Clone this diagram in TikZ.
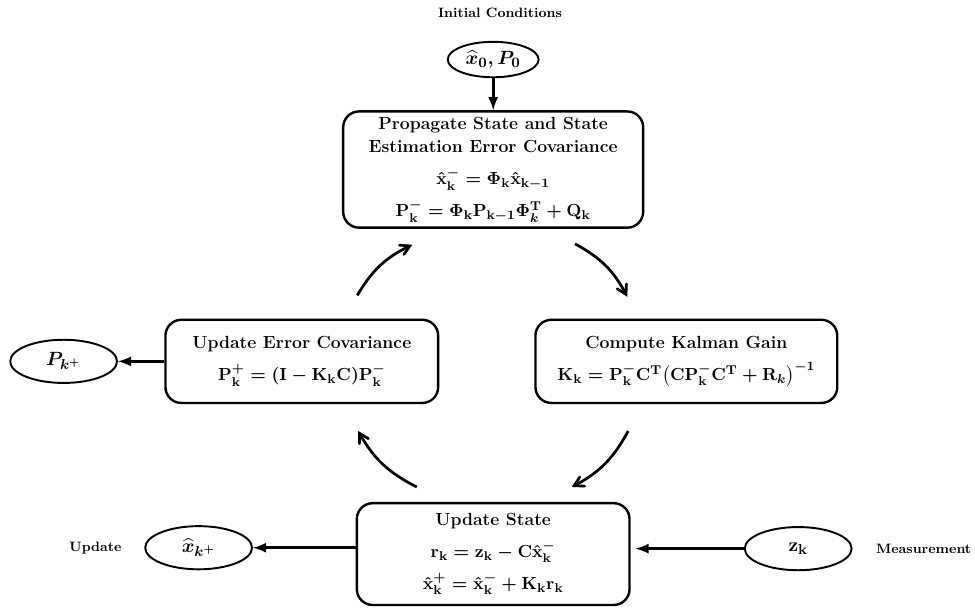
\documentclass[tikz,border=0pt]{standalone}
\usepackage{amsmath}
\usepackage{tikz}
\usetikzlibrary{shapes.geometric, arrows}
\newcommand{\boxfont}{\bfseries\boldmath\fontsize{11}{15}\selectfont}
\newcommand{\ovalfont}{\bfseries\boldmath\fontsize{12.5}{15}\selectfont}
\tikzstyle{process} = [rectangle, rounded corners=0.35cm, minimum
height=1.83cm, align=center, draw=black, line width=1.5pt, font=\boxfont]
\tikzstyle{estimate} = [ellipse, minimum width=2.35cm, minimum
height=0.95cm, inner sep=0pt, draw=black, line width=1.2pt, font=\ovalfont]
\tikzstyle{note} = [font=\bfseries\fontsize{8.5}{10}\selectfont]
\tikzstyle{arrow} =
[line width=1.8pt,->,>=latex]
\tikzstyle{turn} =
[line width=1.7pt,->,>=angle 60, bend left=17]

\begin{document}
\begin{tikzpicture}[node distance=4.22cm]
\useasboundingbox (-10.85,3.73) rectangle (10.60,-9.67);

\node(prop)[process, minimum width=6.6cm, minimum height=2.53cm]{Propagate State and State\\
Estimation Error Covariance\\[5pt]
$\hat{\mathbf{x}}_{\mathbf{k}}^{-}=\mathbf{\Phi}_{\mathbf{k}}\hat{\mathbf{x}}_{\mathbf{k-1}}$\\[5pt]
$\mathbf{P}_{\mathbf{k}}^{-}=\mathbf{\Phi}_{\mathbf{k}}\mathbf{P}_{\mathbf{k-1}}\mathbf{\Phi}_{k}^{\mathbf{T}}+\mathbf{Q}_{\mathbf{k}}$};
\node(start)[estimate, above of=prop, yshift=-1.8cm, minimum width=2cm,
minimum height=0.78cm]{$\widehat{x}_{0},P_{0}$};
\node(init)[note, node distance=1.02cm, above of=start, xshift=0.15cm]{Initial Conditions};
\node(cov)[process, below of=prop, xshift=-4.21cm, minimum width=6cm]{Update Error Covariance\\[5pt]
$\mathbf{P}_{\mathbf{k}}^{+}=(\mathbf{I}-\mathbf{K}_{\mathbf{k}}\mathbf{C})\mathbf{P}_{\mathbf{k}}^{-}$};
\node(gain)[process, below of=prop, xshift=4.25cm, minimum width=6.64cm]{Compute Kalman Gain\\[5pt]
$\mathbf{K}_{\mathbf{k}}=\mathbf{P}_{\mathbf{k}}^{-}\mathbf{C}^{\mathbf{T}}\bigl(\mathbf{C}\mathbf{P}_{\mathbf{k}}^{-}\mathbf{C}^{\mathbf{T}}+\mathbf{R}_{k}\bigr)^{-1}$};
\node(upd)[process, below of=prop, yshift=-4.24cm, minimum width=6cm,
minimum height=2.24cm]{Update State\\[5pt]
$\mathbf{r}_{\mathbf{k}}=\mathbf{z}_{\mathbf{k}}-\mathbf{C}\hat{\mathbf{x}}_{\mathbf{k}}^{-}$\\[5pt]
$\hat{\mathbf{x}}_{\mathbf{k}}^{+}=\hat{\mathbf{x}}_{\mathbf{k}}^{-}+\mathbf{K}_{\mathbf{k}}\mathbf{r}_{\mathbf{k}}$};
\node(pplus)[estimate, node distance=5.24cm, left of=cov]{$P_{k^{+}}$};
\node(xplus)[estimate, node distance=6.48cm, left of=upd, yshift=0.14cm]{$\widehat{x}_{k^{+}}$};
\node(meas)[estimate, node distance=6.71cm, right of=upd, yshift=0.12cm]{$\mathbf{z}_{\mathbf{k}}$};
\node(updnote)[note, node distance=2.27cm, left of=xplus]{Update};
\node(measnote)[note, node distance=2.76cm, right of=meas]{Measurement};

\draw[arrow](start) -- (prop);
\draw[arrow](cov) -- (pplus);
\draw[arrow](upd.west |- xplus) -- (xplus);
\draw[arrow, shorten >=3pt](meas) -- (upd.east |- meas);

\draw[turn]([xshift=1.22cm, yshift=0.51cm]cov.north) to ([xshift=-1.78cm, yshift=-0.35cm]prop.south);
\draw[turn]([xshift=1.80cm, yshift=-0.33cm]prop.south) to ([xshift=-1.30cm, yshift=0.48cm]gain.north);
\draw[turn]([xshift=-1.28cm, yshift=-0.59cm]gain.south) to ([xshift=1.73cm, yshift=0.33cm]upd.north);
\draw[turn]([xshift=-1.68cm, yshift=0.33cm]upd.north) to ([xshift=1.24cm, yshift=-0.59cm]cov.south);

\end{tikzpicture}
\end{document}
